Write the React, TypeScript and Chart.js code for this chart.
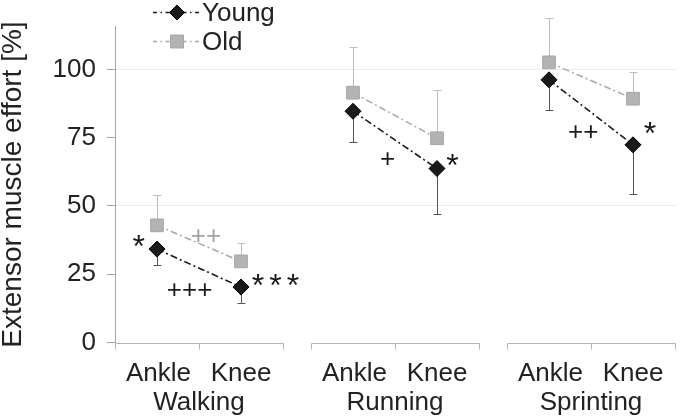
import React, { useEffect, useRef } from 'react';
import { Chart, registerables } from 'chart.js';

Chart.register(...registerables);

// ---- data ----
const groups = ['Walking', 'Running', 'Sprinting'];
const joints = ['Ankle', 'Knee'];
const seriesNames = ['Young', 'Old'];
const youngMean = [34.2, 20.3, 84.7, 63.7, 96.2, 72.4];
const youngSD = [5.8, 5.7, 11.1, 16.8, 10.9, 18.0];
const oldMean = [42.9, 29.7, 91.5, 74.8, 102.6, 89.3];
const oldSD = [11.3, 6.6, 16.7, 17.7, 16.3, 9.7];
const yTicks = [0, 25, 50, 75, 100];
const yTitle = 'Extensor muscle effort [%]';

// significance marks, anchored in data space (x in category units, y in %)
const marks = [
  { text: '*', x: 0.282, y: 38.0, gray: false },
  { text: '++', x: 1.082, y: 39.4, gray: true },
  { text: '+++', x: 0.888, y: 19.8, gray: false },
  { text: '***', x: 1.911, y: 23.9, gray: false },
  { text: '+', x: 3.245, y: 67.7, gray: false },
  { text: '*', x: 4.018, y: 68.0, gray: false },
  { text: '++', x: 5.573, y: 77.6, gray: false },
  { text: '*', x: 6.369, y: 79.4, gray: false },
];

// ---- layout helpers ----
const GAP = 1 / 3;
const FONT = '"Liberation Sans", Arial, sans-serif';
const groupStart = (gi: number) => gi * (joints.length + GAP);

function seriesPoints(values: number[]) {
  const pts: { x: number; y: number | null }[] = [];
  groups.forEach((_, gi) => {
    joints.forEach((__, ji) => pts.push({ x: groupStart(gi) + ji + 0.5, y: values[gi * joints.length + ji] }));
    if (gi < groups.length - 1) pts.push({ x: groupStart(gi) + joints.length + GAP / 2, y: null });
  });
  return pts;
}
function seriesErrors(values: number[]) {
  const e: (number | null)[] = [];
  groups.forEach((_, gi) => {
    joints.forEach((__, ji) => e.push(values[gi * joints.length + ji]));
    if (gi < groups.length - 1) e.push(null);
  });
  return e;
}

const errorBarsPlugin = {
  id: 'errorBars',
  beforeDatasetsDraw(chart: any) {
    const ctx = chart.ctx;
    const ys = chart.scales.y;
    chart.data.datasets.forEach((ds: any, di: number) => {
      const meta = chart.getDatasetMeta(di);
      meta.data.forEach((pt: any, i: number) => {
        const raw = ds.data[i];
        const sd = ds.errors[i];
        if (raw.y == null || sd == null) return;
        const py = ys.getPixelForValue(raw.y + ds.errorDir * sd);
        const x = Math.round(pt.x) + 0.5;
        const yEnd = Math.round(py) + 0.5;
        ctx.save();
        ctx.strokeStyle = ds.errorColor;
        ctx.lineWidth = 1;
        ctx.beginPath();
        ctx.moveTo(x, pt.y);
        ctx.lineTo(x, yEnd);
        ctx.moveTo(x - 4, yEnd);
        ctx.lineTo(x + 4, yEnd);
        ctx.stroke();
        ctx.restore();
      });
    });
  },
};

const categoryAxisPlugin = {
  id: 'categoryAxis',
  afterDraw(chart: any) {
    const ctx = chart.ctx;
    const xs = chart.scales.x;
    const ys = chart.scales.y;
    const y0 = Math.round(ys.getPixelForValue(0)) + 0.5;
    ctx.save();
    ctx.strokeStyle = '#b4b4b4';
    ctx.lineWidth = 1;
    groups.forEach((g, gi) => {
      const s = groupStart(gi);
      const x1 = Math.round(xs.getPixelForValue(s)) + 0.5;
      const x2 = Math.round(xs.getPixelForValue(s + joints.length)) + 0.5;
      ctx.beginPath();
      ctx.moveTo(x1, y0);
      ctx.lineTo(x2, y0);
      for (let k = 0; k <= joints.length; k++) {
        const xt = Math.round(xs.getPixelForValue(s + k)) + 0.5;
        ctx.moveTo(xt, y0);
        ctx.lineTo(xt, y0 + 6);
      }
      ctx.stroke();
      ctx.fillStyle = '#222';
      ctx.textAlign = 'center';
      ctx.textBaseline = 'alphabetic';
      ctx.font = `26px ${FONT}`;
      joints.forEach((j, ji) => {
        ctx.fillText(j, xs.getPixelForValue(s + ji + 0.5) + (ji === 0 ? 1.5 : 0), y0 + 37.5);
      });
      ctx.fillText(g, xs.getPixelForValue(s + joints.length / 2), y0 + 66.5);
    });
    ctx.restore();
  },
};

const marksPlugin = {
  id: 'marks',
  afterDatasetsDraw(chart: any) {
    const ctx = chart.ctx;
    const xs = chart.scales.x;
    const ys = chart.scales.y;
    ctx.save();
    ctx.textAlign = 'center';
    ctx.textBaseline = 'alphabetic';
    marks.forEach((m) => {
      const star = m.text.includes('*');
      const size = star ? 32 : 26;
      ctx.font = `${size}px ${FONT}`;
      (ctx as any).letterSpacing = star && m.text.length > 1 ? '5px' : '0px';
      ctx.fillStyle = m.gray ? '#a3a3a3' : '#1a1a1a';
      const px = xs.getPixelForValue(m.x);
      const py = ys.getPixelForValue(m.y) + (star ? 0.585 : 0.355) * size;
      ctx.fillText(m.text, px + (star && m.text.length > 1 ? 2.5 : 0), py);
    });
    ctx.restore();
  },
};

const legendPlugin = {
  id: 'customLegend',
  afterDraw(chart: any) {
    const ctx = chart.ctx;
    chart.data.datasets.forEach((ds: any, di: number) => {
      const cy = 12.5 + di * 29;
      ctx.save();
      ctx.strokeStyle = ds.borderColor;
      ctx.lineWidth = ds.borderWidth;
      ctx.setLineDash([4, 3.5, 1.5, 3.5]);
      ctx.beginPath();
      ctx.moveTo(153, cy);
      ctx.lineTo(177, cy);
      ctx.stroke();
      ctx.beginPath();
      ctx.moveTo(199, cy);
      ctx.lineTo(177, cy);
      ctx.stroke();
      ctx.setLineDash([]);
      const mx = 177;
      ctx.fillStyle = ds.pointBackgroundColor;
      ctx.strokeStyle = ds.pointBorderColor;
      ctx.lineWidth = 1;
      ctx.beginPath();
      if (ds.pointStyle === 'rectRot') {
        const r = 7.5;
        ctx.moveTo(mx, cy - r);
        ctx.lineTo(mx + r, cy);
        ctx.lineTo(mx, cy + r);
        ctx.lineTo(mx - r, cy);
        ctx.closePath();
      } else {
        const h = 6.5;
        ctx.rect(mx - h, cy - h, 2 * h, 2 * h);
      }
      ctx.fill();
      ctx.stroke();
      ctx.fillStyle = '#222';
      ctx.font = `26px ${FONT}`;
      ctx.textAlign = 'left';
      ctx.textBaseline = 'alphabetic';
      ctx.fillText(seriesNames[di], 202, cy + 8.5);
      ctx.restore();
    });
  },
};

export default function App() {
  const canvasRef = useRef<HTMLCanvasElement | null>(null);

  useEffect(() => {
    if (!canvasRef.current) return;
    const chart = new Chart(canvasRef.current, {
      type: 'line',
      data: {
        datasets: [
          {
            label: seriesNames[0],
            data: seriesPoints(youngMean),
            errors: seriesErrors(youngSD),
            errorDir: -1,
            errorColor: '#555555',
            borderColor: '#1a1a1a',
            borderWidth: 1.6,
            borderDash: [7, 3, 2, 3],
            pointStyle: 'rectRot',
            pointRadius: 8,
            pointBackgroundColor: '#1a1a1a',
            pointBorderColor: '#000000',
            pointBorderWidth: 1,
            spanGaps: false,
            clip: false,
          } as any,
          {
            label: seriesNames[1],
            data: seriesPoints(oldMean),
            errors: seriesErrors(oldSD),
            errorDir: 1,
            errorColor: '#bdbdbd',
            borderColor: '#a8a8a8',
            borderWidth: 1.5,
            borderDash: [7, 3, 2, 3],
            pointStyle: 'rect',
            pointRadius: 9,
            pointBackgroundColor: '#b3b3b3',
            pointBorderColor: '#a6a6a6',
            pointBorderWidth: 1,
            spanGaps: false,
            clip: false,
          } as any,
        ],
      },
      options: {
        responsive: false,
        animation: false,
        events: [],
        layout: { padding: { left: 0, right: 3, top: 24, bottom: 77.5 } },
        elements: { line: { tension: 0 } },
        plugins: { legend: { display: false }, tooltip: { enabled: false } },
        scales: {
          x: {
            type: 'linear',
            display: false,
            min: 0,
            max: groupStart(groups.length - 1) + joints.length,
          },
          y: {
            min: 0,
            max: 115.7,
            afterBuildTicks: (s: any) => {
              s.ticks = yTicks.map((v) => ({ value: v }));
            },
            afterFit: (s: any) => {
              s.width = 115;
            },
            grid: {
              color: (c: any) =>
                c.tick && (c.tick.value === 50 || c.tick.value === 100) ? '#ebebeb' : 'rgba(0,0,0,0)',
              tickColor: '#a6a6a6',
              tickLength: 8,
              drawTicks: true,
            },
            border: { display: true, color: '#a6a6a6', width: 1 },
            ticks: { font: { family: FONT, size: 26 }, color: '#222', padding: 11 },
            title: {
              display: true,
              text: yTitle,
              color: '#222',
              font: { family: FONT, size: 28, lineHeight: 1.2 },
              padding: { top: -4, bottom: 0 },
            },
          },
        },
      },
      plugins: [errorBarsPlugin, marksPlugin, categoryAxisPlugin, legendPlugin],
    } as any);
    return () => chart.destroy();
  }, []);

  return (
    <div style={{ position: 'absolute', left: 0, top: 0, width: 685, height: 420, background: '#fff' }}>
      <canvas ref={canvasRef} width={685} height={420} style={{ display: 'block' }} />
    </div>
  );
}
